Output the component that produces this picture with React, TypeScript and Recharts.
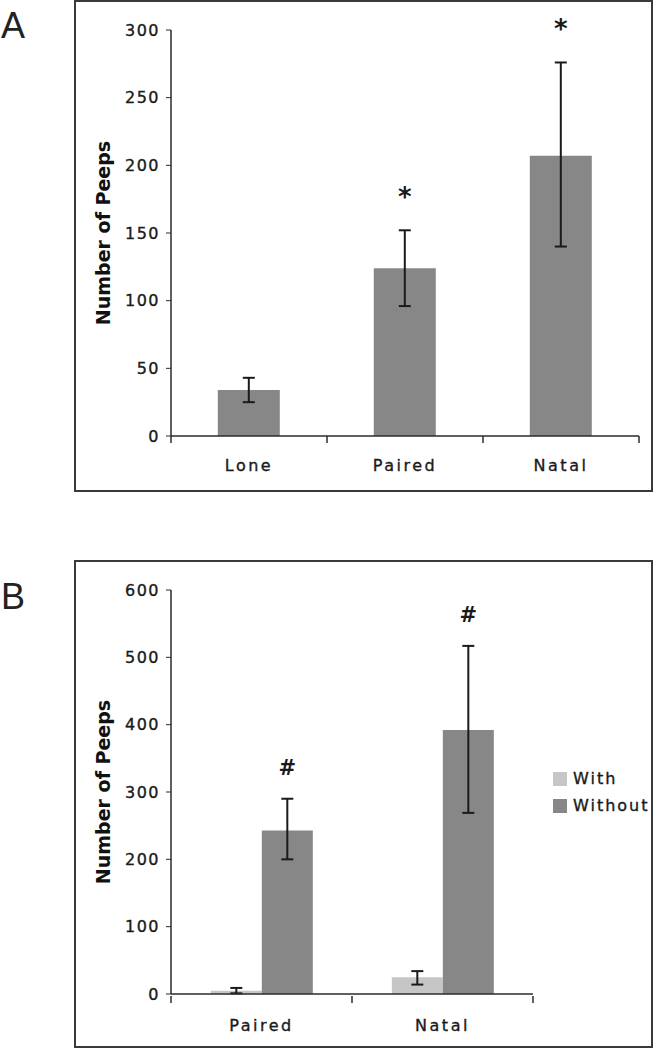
import React from 'react';
import { BarChart, Bar, XAxis, YAxis, ErrorBar, LabelList } from 'recharts';

// Panel A: peeps by housing condition
const groupsA = ['Lone', 'Paired', 'Natal'];
const peepsA = [34, 124, 207];
const lowA = [25, 96, 140];
const highA = [43, 152, 276];
const marksA = ['', '*', '*'];
const ticksA = [0, 50, 100, 150, 200, 250, 300];

// Panel B: peeps with / without partner
const groupsB = ['Paired', 'Natal'];
const withB = [5, 25];
const withLowB = [1, 14];
const withHighB = [9, 34];
const withoutB = [243, 392];
const withoutLowB = [200, 269];
const withoutHighB = [290, 517];
const marksB = ['#', '#'];
const ticksB = [0, 100, 200, 300, 400, 500, 600];

const INK = '#1a1a1a';
const AXIS = '#2b2b2b';
const DARK = '#878787';
const LIGHT = '#c6c6c6';
const FONT = '"DejaVu Sans", Verdana, sans-serif';

const dataA = groupsA.map((g, i) => ({
  group: g,
  peeps: peepsA[i],
  err: [peepsA[i] - lowA[i], highA[i] - peepsA[i]],
  mark: marksA[i],
}));

const dataB = groupsB.map((g, i) => ({
  group: g,
  with: withB[i],
  withErr: [withB[i] - withLowB[i], withHighB[i] - withB[i]],
  without: withoutB[i],
  withoutErr: [withoutB[i] - withoutLowB[i], withoutHighB[i] - withoutB[i]],
  mark: marksB[i],
}));

// layout of the two framed panels
const BOX_LEFT = 74;
const BOX_W = 579;
const Y_AXIS_W = 97;
const MARGIN_A = { top: 30, right: 14, left: 0, bottom: 16 };
const MARGIN_B = { top: 30, right: 120, left: 0, bottom: 14 };
const HALF_A = (BOX_W - Y_AXIS_W - MARGIN_A.right) / groupsA.length / 2;
const HALF_B = (BOX_W - Y_AXIS_W - MARGIN_B.right) / groupsB.length / 2;

// category label plus tick marks on the category boundaries
const catTick = (half: number, count: number) => (props: any) => {
  const { x, y, payload, index } = props;
  const axisY = y - 24;
  return (
    <g>
      <line x1={x - half} x2={x - half} y1={axisY} y2={axisY + 7} stroke={AXIS} strokeWidth={1.5} />
      {index === count - 1 && (
        <line x1={x + half} x2={x + half} y1={axisY} y2={axisY + 7} stroke={AXIS} strokeWidth={1.5} />
      )}
      <text
        x={x}
        y={y}
        dy="0.71em"
        textAnchor="middle"
        fontSize={16}
        letterSpacing={2.5}
        fill={INK}
        stroke={INK}
        strokeWidth={0.35}
      >
        {payload.value}
      </text>
    </g>
  );
};

const axisTitle = (props: any) => {
  const vb = props.viewBox || { x: 0, y: 0, height: 0 };
  const cx = vb.x + 36;
  const cy = vb.y + vb.height / 2;
  return (
    <text
      x={cx}
      y={cy}
      transform={`rotate(-90 ${cx} ${cy})`}
      textAnchor="middle"
      fontSize={19}
      fontWeight="bold"
      fill="#111"
    >
      Number of Peeps
    </text>
  );
};

// significance mark above the top of the error bar
const sigMark = (values: number[], highs: number[], size: number, lift: number, drop: number) => (props: any) => {
  const { x, y, width, height, value, index } = props;
  if (!value) return null;
  const perUnit = Number(height) / values[index];
  const errTop = Number(y) - (highs[index] - values[index]) * perUnit;
  return (
    <text
      x={Number(x) + Number(width) / 2}
      y={errTop - lift + drop}
      textAnchor="middle"
      fontSize={size}
      fontWeight="bold"
      fill={INK}
    >
      {value}
    </text>
  );
};

const yTick = { fill: INK, fontSize: 16, letterSpacing: 1.5, stroke: INK, strokeWidth: 0.35 };

const frame: React.CSSProperties = {
  position: 'absolute',
  left: BOX_LEFT,
  width: BOX_W,
  boxSizing: 'border-box',
  border: '2px solid #3a3a3a',
};

const panelLetter: React.CSSProperties = {
  position: 'absolute',
  left: 1,
  fontFamily: '"Liberation Sans", Arial, sans-serif',
  fontSize: 36,
  lineHeight: '36px',
  color: '#222',
};

export default function App() {
  return (
    <div style={{ position: 'absolute', left: 0, top: 0, width: 655, height: 1050, background: '#fff', fontFamily: FONT }}>
      <div style={{ ...panelLetter, top: 8 }}>A</div>
      <div style={{ ...frame, top: 0, height: 492 }} />
      <div style={{ position: 'absolute', left: BOX_LEFT, top: 0 }}>
        <BarChart width={BOX_W} height={492} data={dataA} margin={MARGIN_A} barCategoryGap="30%">
          <XAxis
            dataKey="group"
            height={40}
            axisLine={{ stroke: AXIS, strokeWidth: 1.5 }}
            tickLine={false}
            tickSize={6}
            tickMargin={18}
            tick={catTick(HALF_A, groupsA.length)}
          />
          <YAxis
            width={Y_AXIS_W}
            domain={[0, 300]}
            ticks={ticksA}
            interval={0}
            axisLine={{ stroke: AXIS, strokeWidth: 1.5 }}
            tickLine={{ stroke: AXIS }}
            tickSize={5}
            tickMargin={6}
            tick={yTick}
            label={axisTitle}
          />
          <Bar dataKey="peeps" fill={DARK} isAnimationActive={false}>
            <ErrorBar dataKey="err" direction="y" width={6} stroke={INK} strokeWidth={2} />
            <LabelList dataKey="mark" content={sigMark(peepsA, highA, 26, 40, 16)} />
          </Bar>
        </BarChart>
      </div>

      <div style={{ ...panelLetter, top: 579 }}>B</div>
      <div style={{ ...frame, top: 560, height: 488 }} />
      <div style={{ position: 'absolute', left: BOX_LEFT, top: 560 }}>
        <BarChart width={BOX_W} height={488} data={dataB} margin={MARGIN_B} barCategoryGap="22%" barGap={0}>
          <XAxis
            dataKey="group"
            height={40}
            axisLine={{ stroke: AXIS, strokeWidth: 1.5 }}
            tickLine={false}
            tickSize={6}
            tickMargin={20}
            tick={catTick(HALF_B, groupsB.length)}
          />
          <YAxis
            width={Y_AXIS_W}
            domain={[0, 600]}
            ticks={ticksB}
            interval={0}
            axisLine={{ stroke: AXIS, strokeWidth: 1.5 }}
            tickLine={{ stroke: AXIS }}
            tickSize={5}
            tickMargin={6}
            tick={yTick}
            label={axisTitle}
          />
          <Bar dataKey="with" name="With" fill={LIGHT} isAnimationActive={false}>
            <ErrorBar dataKey="withErr" direction="y" width={6} stroke={INK} strokeWidth={2} />
          </Bar>
          <Bar dataKey="without" name="Without" fill={DARK} isAnimationActive={false}>
            <ErrorBar dataKey="withoutErr" direction="y" width={6} stroke={INK} strokeWidth={2} />
            <LabelList dataKey="mark" content={sigMark(withoutB, withoutHighB, 21, 31, 7)} />
          </Bar>
        </BarChart>
      </div>

      <div
        style={{
          position: 'absolute',
          left: 553,
          top: 771,
          fontSize: 16,
          letterSpacing: 2,
          color: INK,
          WebkitTextStroke: '0.35px #1a1a1a',
        }}
      >
        {[
          { name: 'With', color: LIGHT },
          { name: 'Without', color: DARK },
        ].map((item, i) => (
          <div key={item.name} style={{ display: 'flex', alignItems: 'center', height: 15, marginBottom: i === 0 ? 12 : 0 }}>
            <span style={{ width: 14, height: 14, background: item.color, marginRight: 6, display: 'inline-block' }} />
            <span style={{ lineHeight: '15px' }}>{item.name}</span>
          </div>
        ))}
      </div>
    </div>
  );
}
